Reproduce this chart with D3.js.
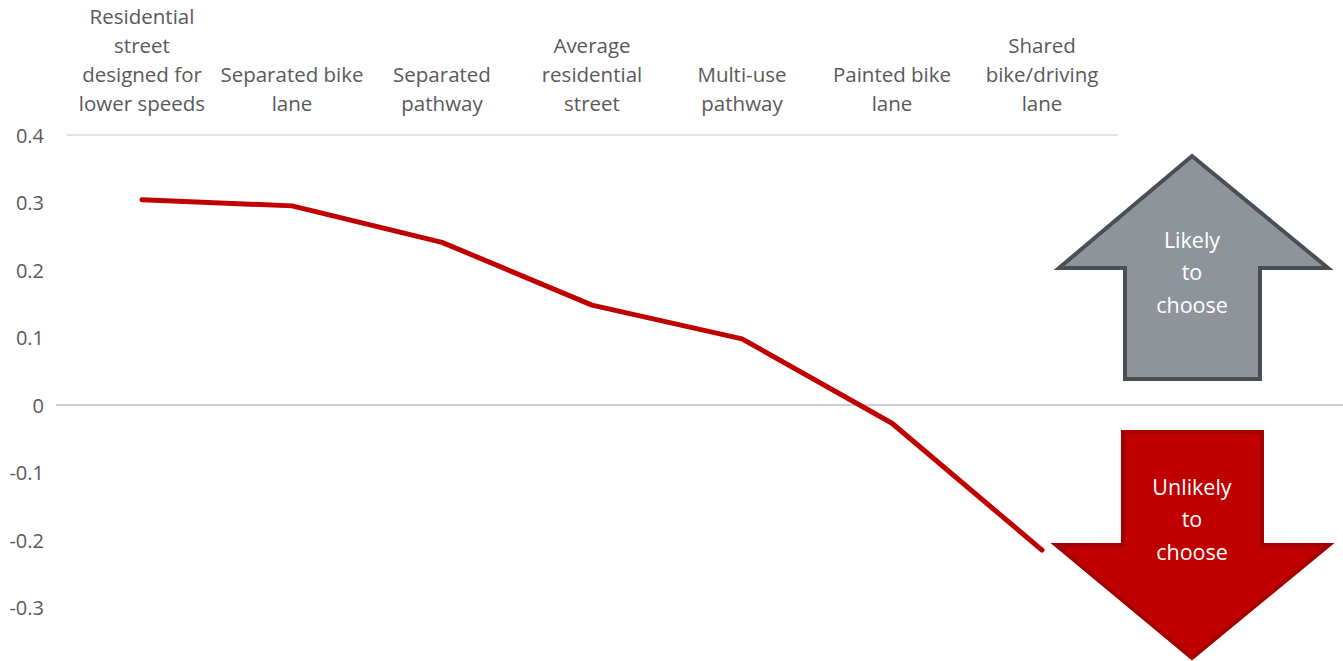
<!DOCTYPE html>
<html><head><meta charset="utf-8">
<script src="https://cdn.jsdelivr.net/npm/d3@7"></script>
<style>html,body{margin:0;padding:0;background:#fff;}svg{display:block;}</style>
</head><body>
<svg id="chart" width="1343" height="661"></svg>
<script>
const categories = [
  "Residential\nstreet\ndesigned for\nlower speeds",
  "Separated bike\nlane",
  "Separated\npathway",
  "Average\nresidential\nstreet",
  "Multi-use\npathway",
  "Painted bike\nlane",
  "Shared\nbike/driving\nlane"
];
const values = [0.304, 0.295, 0.241, 0.148, 0.098, -0.027, -0.215];
const yTicks = [0.4, 0.3, 0.2, 0.1, 0, -0.1, -0.2, -0.3];
const upLabel = ["Likely", "to", "choose"];
const downLabel = ["Unlikely", "to", "choose"];

const svg = d3.select("#chart");
const font = "'Open Sans', sans-serif";
const x = d3.scaleBand().domain(categories).range([67, 1117]);
const y = d3.scaleLinear().domain([-0.3, 0.4]).range([607.5, 135]);

// top gridline at 0.4
svg.append("line").attr("x1", 67).attr("x2", 1118)
  .attr("y1", y(0.4)).attr("y2", y(0.4))
  .attr("stroke", "#d9d9d9").attr("stroke-width", 1.5);
// zero line
svg.append("line").attr("x1", 56).attr("x2", 1343)
  .attr("y1", y(0)).attr("y2", y(0))
  .attr("stroke", "#bfbfbf").attr("stroke-width", 1.5);

// y tick labels
const yAxis = d3.axisLeft(y).tickValues(yTicks).tickSize(0).tickPadding(0)
  .tickFormat(d => d === 0 ? "0" : d3.format(".1f")(d).replace("\u2212", "-"));
const gy = svg.append("g").attr("transform", "translate(44,0)").call(yAxis);
gy.select(".domain").remove();
gy.selectAll("text").attr("font-family", font).attr("font-size", 20)
  .attr("fill", "#595959").attr("dy", "0.35em");

// category labels (bottom aligned)
const lh = 29;
categories.forEach(c => {
  const lines = c.split("\n");
  const cx = x(c) + x.bandwidth() / 2;
  const t = svg.append("text").attr("text-anchor", "middle")
    .attr("font-family", font).attr("font-size", 20.5).attr("fill", "#595959");
  lines.forEach((l, i) => {
    t.append("tspan").attr("x", cx)
      .attr("y", 104 - (lines.length - 1 - i) * lh).attr("dy", "0.35em").text(l);
  });
});

// line
const line = d3.line().x((d, i) => x(categories[i]) + x.bandwidth() / 2).y(d => y(d));
svg.append("path").datum(values).attr("d", line)
  .attr("fill", "none").attr("stroke", "#c00000").attr("stroke-width", 5)
  .attr("stroke-linecap", "round").attr("stroke-linejoin", "round");

// arrows
const upPts = [[1192,156],[1328,268],[1260,268],[1260,379],[1125,379],[1125,268],[1059,268]];
svg.append("polygon").attr("points", upPts.map(p => p.join(",")).join(" "))
  .attr("fill", "#8f949b").attr("stroke", "#4a4e55").attr("stroke-width", 4)
  .attr("stroke-linejoin", "miter");
const downPts = [[1123,432],[1262,432],[1262,545],[1329,545],[1192,658],[1056,545],[1123,545]];
svg.append("polygon").attr("points", downPts.map(p => p.join(",")).join(" "))
  .attr("fill", "#c00000").attr("stroke", "#a50000").attr("stroke-width", 4)
  .attr("stroke-linejoin", "miter");

function arrowText(lines, cy) {
  const t = svg.append("text").attr("text-anchor", "middle")
    .attr("font-family", font).attr("font-size", 21.5).attr("fill", "#ffffff");
  lines.forEach((l, i) => {
    t.append("tspan").attr("x", 1192).attr("y", cy + (i - 1) * 32.5)
      .attr("dy", "0.35em").text(l);
  });
}
arrowText(upLabel, 272.5);
arrowText(downLabel, 519.5);
</script>
</body></html>
